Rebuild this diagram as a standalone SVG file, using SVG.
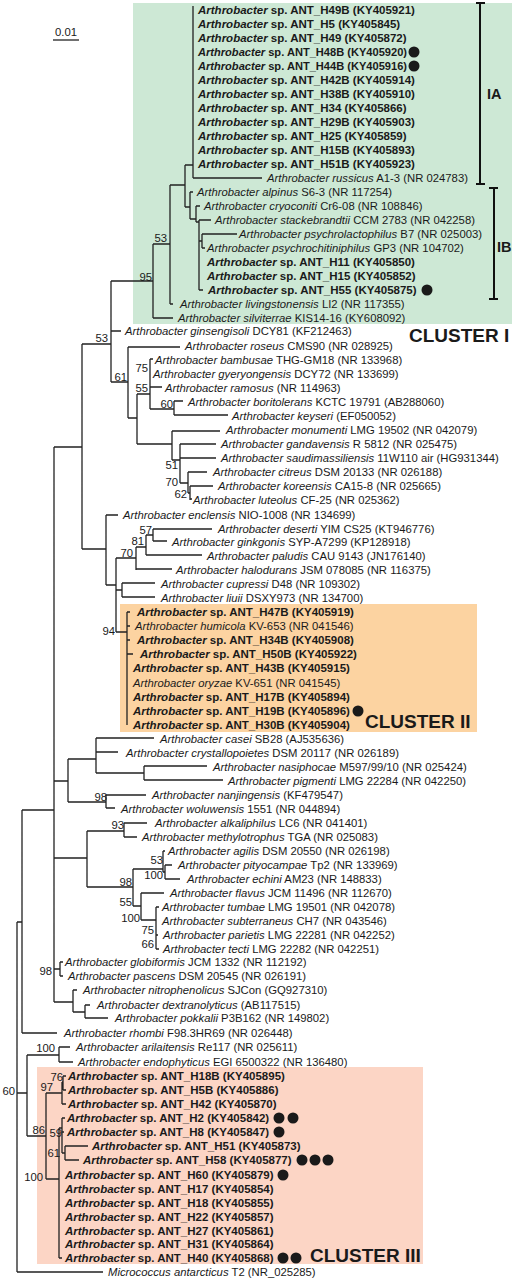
<svg xmlns="http://www.w3.org/2000/svg" width="515" height="1282" viewBox="0 0 515 1282">
<style>
text{font-family:"Liberation Sans",Arial,sans-serif;fill:#1a1a1a}
.t{font-size:11.3px}
.b{font-size:11.5px;font-weight:bold}
.i{font-style:italic}
.bs{font-size:11.3px;text-anchor:end}
.cl{font-size:19px;font-weight:bold}
.br{font-size:14.5px;font-weight:bold}
.e{fill:none;stroke:#222;stroke-width:1.3}
.bk{fill:none;stroke:#111;stroke-width:2}
.dot{fill:#1a1a1a}
</style>
<g id="backgrounds">
<rect id="bg-cluster1" x="133" y="3" width="379" height="321" fill="#cde8d5"/>
<rect id="bg-cluster2" x="120" y="604" width="357" height="128" fill="#fcd3a1"/>
<rect id="bg-cluster3" x="37" y="1067" width="386" height="197" fill="#fcd5c5"/>
</g>
<g id="scale">
<text class="t" x="66" y="36" text-anchor="middle">0.01</text>
<path class="e" d="M53 40H79"/>
</g>
<g id="connectors">
<path class="e" d="M193 6V178M193 178H262
M185 165H193M185 165V207M185 207H190
M190 192V219M190 192H193M190 219H196
M196 206V222M196 206H200M196 222H199
M199 220V290M199 220H211M199 241H202M202 234V248M202 234H237M202 248H205M199 290H203
M170 185H185M170 185V304M170 304H173
M153 244H170M153 244V318M153 318H173
M111 281H153M111 281V382M111 331H121M82 344H111M111 382H128
M128 347V418M128 347H180M128 418H137
M137 394V444M137 394H150M137 444H172
M150 359V409M150 359H153M150 387H162M150 409H174
M174 401V415M174 401H183M174 415H228
M172 431V460M172 431H220M172 460H180
M180 444V483M180 444H216M180 458H216M180 483H188
M188 472V493M188 472H207M188 493H190
M190 486V500M190 486H213M190 499H192
M82 344V549M54 447H82M82 549H106
M106 515V585M106 515H118M106 585H116
M116 558V632M116 558H136M116 590H122M116 632H127
M136 547V570M136 547H146M136 569H172
M146 535V555M146 535H153M146 555H202
M153 529V541M153 529H212M153 541H167
M122 583V597M122 583H155M122 597H155
M127 612V725M127 612H130M127 626H130M127 640H130M127 654H133
M54 447V1002M22 810H54M54 781H68M54 858H87M54 969H60M54 1002H73
M68 759V802M68 759H96M68 802H106
M96 738V773M96 738H154M96 752H118M96 773H144
M144 766V780M144 766H207M144 780H223
M106 795V808M106 795H146M106 808H115
M87 831V887M87 831H124M87 887H133
M124 823V837M124 823H147M124 837H137
M133 869V906M133 869H163M133 906H141
M163 851V872M163 851H165M163 872H165M165 865V879M165 865H172M165 879H180
M141 893V920M141 893H164M141 920H156
M156 907V949M156 907H159M156 935H158M156 949H159
M60 962V976M60 962H63M60 976H63
M73 990V1012M73 990H77M73 1012H85
M85 1005V1018M85 1005H90M85 1018H108
M22 810V1033M22 1033H57M17 922H22
M17 922V1272M17 1272H103M17 1093H27
M27 1055V1136M27 1055H59M27 1136H46
M59 1047V1062M59 1047H70M59 1062H73
M46 1093V1179M46 1093H62M46 1179H59
M62 1082V1104M62 1082H63M62 1104H66
M63 1076V1090M63 1076H66M63 1090H66
M59 1128V1258M59 1128H62M59 1258H62
M62 1118V1153M62 1118H65M62 1132H64M62 1153H65
M65 1146V1160M65 1146H88M65 1160H79"/>
</g>
<g id="brackets">
<path class="bk" d="M476 3H485M480 3V184M476 184H485"/>
<text class="br" x="487" y="99">IA</text>
<path class="bk" d="M489 188H498M494 188V299M489 299H498"/>
<text class="br" x="497" y="252">IB</text>
</g>
<g id="bootstrap">
<text class="bs" x="167" y="242">53</text>
<text class="bs" x="152" y="281">95</text>
<text class="bs" x="108" y="342">53</text>
<text class="bs" x="127" y="381">61</text>
<text class="bs" x="148" y="372">75</text>
<text class="bs" x="148" y="392">55</text>
<text class="bs" x="173" y="408">60</text>
<text class="bs" x="178" y="469">51</text>
<text class="bs" x="178" y="486">70</text>
<text class="bs" x="187" y="498">62</text>
<text class="bs" x="152" y="534">57</text>
<text class="bs" x="144" y="545">81</text>
<text class="bs" x="133" y="557">70</text>
<text class="bs" x="115" y="635">94</text>
<text class="bs" x="107" y="801">98</text>
<text class="bs" x="124" y="829">93</text>
<text class="bs" x="163" y="864">53</text>
<text class="bs" x="163" y="879">100</text>
<text class="bs" x="132" y="886">98</text>
<text class="bs" x="132" y="906">55</text>
<text class="bs" x="140" y="922">100</text>
<text class="bs" x="154" y="934">75</text>
<text class="bs" x="154" y="948">66</text>
<text class="bs" x="52" y="975">98</text>
<text class="bs" x="55" y="1052">100</text>
<text class="bs" x="15" y="1095">60</text>
<text class="bs" x="63" y="1081">76</text>
<text class="bs" x="53" y="1091">97</text>
<text class="bs" x="45" y="1134">86</text>
<text class="bs" x="62" y="1137">59</text>
<text class="bs" x="60" y="1157">61</text>
<text class="bs" x="43" y="1181">100</text>
</g>
<g id="cluster-labels">
<text class="cl" x="409" y="342">CLUSTER I</text>
<text class="cl" x="365" y="728">CLUSTER II</text>
<text class="cl" x="310" y="1262">CLUSTER III</text>
</g>
<g id="leaves">
<g id="n1"><text class="b" x="198" y="14"><tspan class="i">Arthrobacter</tspan> sp. ANT_H49B (KY405921)</text></g>
<g id="n2"><text class="b" x="198" y="28"><tspan class="i">Arthrobacter</tspan> sp. ANT_H5 (KY405845)</text></g>
<g id="n3"><text class="b" x="198" y="42"><tspan class="i">Arthrobacter</tspan> sp. ANT_H49 (KY405872)</text></g>
<g id="n4"><text class="b" x="198" y="56" textLength="209" lengthAdjust="spacingAndGlyphs"><tspan class="i">Arthrobacter</tspan> sp. ANT_H48B (KY405920)</text><circle class="dot" cx="414" cy="52" r="5.5"/></g>
<g id="n5"><text class="b" x="198" y="70" textLength="209" lengthAdjust="spacingAndGlyphs"><tspan class="i">Arthrobacter</tspan> sp. ANT_H44B (KY405916)</text><circle class="dot" cx="414" cy="66" r="5.5"/></g>
<g id="n6"><text class="b" x="198" y="84"><tspan class="i">Arthrobacter</tspan> sp. ANT_H42B (KY405914)</text></g>
<g id="n7"><text class="b" x="198" y="98"><tspan class="i">Arthrobacter</tspan> sp. ANT_H38B (KY405910)</text></g>
<g id="n8"><text class="b" x="198" y="112"><tspan class="i">Arthrobacter</tspan> sp. ANT_H34 (KY405866)</text></g>
<g id="n9"><text class="b" x="198" y="126"><tspan class="i">Arthrobacter</tspan> sp. ANT_H29B (KY405903)</text></g>
<g id="n10"><text class="b" x="198" y="140"><tspan class="i">Arthrobacter</tspan> sp. ANT_H25 (KY405859)</text></g>
<g id="n11"><text class="b" x="198" y="154"><tspan class="i">Arthrobacter</tspan> sp. ANT_H15B (KY405893)</text></g>
<g id="n12"><text class="b" x="198" y="168"><tspan class="i">Arthrobacter</tspan> sp. ANT_H51B (KY405923)</text></g>
<g id="n13"><text class="t" x="267" y="182"><tspan class="i">Arthrobacter russicus</tspan> A1-3 (NR 024783)</text></g>
<g id="n14"><text class="t" x="197" y="196"><tspan class="i">Arthrobacter alpinus</tspan> S6-3 (NR 117254)</text></g>
<g id="n15"><text class="t" x="204" y="210"><tspan class="i">Arthrobacter cryoconiti</tspan> Cr6-08 (NR 108846)</text></g>
<g id="n16"><text class="t" x="215" y="224"><tspan class="i">Arthrobacter stackebrandtii</tspan> CCM 2783 (NR 042258)</text></g>
<g id="n17"><text class="t" x="239" y="238"><tspan class="i">Arthrobacter psychrolactophilus</tspan> B7 (NR 025003)</text></g>
<g id="n18"><text class="t" x="207" y="252"><tspan class="i">Arthrobacter psychrochitiniphilus</tspan> GP3 (NR 104702)</text></g>
<g id="n19"><text class="b" x="207" y="266"><tspan class="i">Arthrobacter</tspan> sp. ANT_H11 (KY405850)</text></g>
<g id="n20"><text class="b" x="207" y="280"><tspan class="i">Arthrobacter</tspan> sp. ANT_H15 (KY405852)</text></g>
<g id="n21"><text class="b" x="208" y="294"><tspan class="i">Arthrobacter</tspan> sp. ANT_H55 (KY405875)</text><circle class="dot" cx="427" cy="290" r="5.5"/></g>
<g id="n22"><text class="t" x="180" y="308"><tspan class="i">Arthrobacter livingstonensis</tspan> LI2 (NR 117355)</text></g>
<g id="n23"><text class="t" x="178" y="322"><tspan class="i">Arthrobacter silviterrae</tspan> KIS14-16 (KY608092)</text></g>
<g id="n24"><text class="t" x="125" y="335"><tspan class="i">Arthrobacter ginsengisoli</tspan> DCY81 (KF212463)</text></g>
<g id="n25"><text class="t" x="185" y="350"><tspan class="i">Arthrobacter roseus</tspan> CMS90 (NR 028925)</text></g>
<g id="n26"><text class="t" x="155" y="364"><tspan class="i">Arthrobacter bambusae</tspan> THG-GM18 (NR 133968)</text></g>
<g id="n27"><text class="t" x="153" y="378"><tspan class="i">Arthrobacter gyeryongensis</tspan> DCY72 (NR 133699)</text></g>
<g id="n28"><text class="t" x="165" y="392"><tspan class="i">Arthrobacter ramosus</tspan> (NR 114963)</text></g>
<g id="n29"><text class="t" x="188" y="406"><tspan class="i">Arthrobacter boritolerans</tspan> KCTC 19791 (AB288060)</text></g>
<g id="n30"><text class="t" x="232" y="420"><tspan class="i">Arthrobacter keyseri</tspan> (EF050052)</text></g>
<g id="n31"><text class="t" x="226" y="434"><tspan class="i">Arthrobacter monumenti</tspan> LMG 19502 (NR 042079)</text></g>
<g id="n32"><text class="t" x="221" y="448"><tspan class="i">Arthrobacter gandavensis</tspan> R 5812 (NR 025475)</text></g>
<g id="n33"><text class="t" x="221" y="462"><tspan class="i">Arthrobacter saudimassiliensis</tspan> 11W110 air (HG931344)</text></g>
<g id="n34"><text class="t" x="213" y="476"><tspan class="i">Arthrobacter citreus</tspan> DSM 20133 (NR 026188)</text></g>
<g id="n35"><text class="t" x="218" y="490"><tspan class="i">Arthrobacter koreensis</tspan> CA15-8 (NR 025665)</text></g>
<g id="n36"><text class="t" x="193" y="504"><tspan class="i">Arthrobacter luteolus</tspan> CF-25 (NR 025362)</text></g>
<g id="n37"><text class="t" x="123" y="519"><tspan class="i">Arthrobacter enclensis</tspan> NIO-1008 (NR 134699)</text></g>
<g id="n38"><text class="t" x="218" y="533"><tspan class="i">Arthrobacter deserti</tspan> YIM CS25 (KT946776)</text></g>
<g id="n39"><text class="t" x="172" y="546"><tspan class="i">Arthrobacter ginkgonis</tspan> SYP-A7299 (KP128918)</text></g>
<g id="n40"><text class="t" x="207" y="560"><tspan class="i">Arthrobacter paludis</tspan> CAU 9143 (JN176140)</text></g>
<g id="n41"><text class="t" x="176" y="574"><tspan class="i">Arthrobacter halodurans</tspan> JSM 078085 (NR 116375)</text></g>
<g id="n42"><text class="t" x="161" y="588"><tspan class="i">Arthrobacter cupressi</tspan> D48 (NR 109302)</text></g>
<g id="n43"><text class="t" x="161" y="602"><tspan class="i">Arthrobacter liuii</tspan> DSXY973 (NR 134700)</text></g>
<g id="n44"><text class="b" x="137" y="616"><tspan class="i">Arthrobacter</tspan> sp. ANT_H47B (KY405919)</text></g>
<g id="n45"><text class="t" x="135" y="630"><tspan class="i">Arthrobacter humicola</tspan> KV-653 (NR 041546)</text></g>
<g id="n46"><text class="b" x="137" y="644"><tspan class="i">Arthrobacter</tspan> sp. ANT_H34B (KY405908)</text></g>
<g id="n47"><text class="b" x="140" y="658"><tspan class="i">Arthrobacter</tspan> sp. ANT_H50B (KY405922)</text></g>
<g id="n48"><text class="b" x="133" y="672"><tspan class="i">Arthrobacter</tspan> sp. ANT_H43B (KY405915)</text></g>
<g id="n49"><text class="t" x="133" y="687"><tspan class="i">Arthrobacter oryzae</tspan> KV-651 (NR 041545)</text></g>
<g id="n50"><text class="b" x="133" y="701"><tspan class="i">Arthrobacter</tspan> sp. ANT_H17B (KY405894)</text></g>
<g id="n51"><text class="b" x="133" y="715"><tspan class="i">Arthrobacter</tspan> sp. ANT_H19B (KY405896)</text><circle class="dot" cx="358" cy="711" r="5.5"/></g>
<g id="n52"><text class="b" x="133" y="729"><tspan class="i">Arthrobacter</tspan> sp. ANT_H30B (KY405904)</text></g>
<g id="n53"><text class="t" x="160" y="743"><tspan class="i">Arthrobacter casei</tspan> SB28 (AJ535636)</text></g>
<g id="n54"><text class="t" x="126" y="757"><tspan class="i">Arthrobacter crystallopoietes</tspan> DSM 20117 (NR 026189)</text></g>
<g id="n55"><text class="t" x="213" y="771"><tspan class="i">Arthrobacter nasiphocae</tspan> M597/99/10 (NR 025424)</text></g>
<g id="n56"><text class="t" x="228" y="785"><tspan class="i">Arthrobacter pigmenti</tspan> LMG 22284 (NR 042250)</text></g>
<g id="n57"><text class="t" x="152" y="799"><tspan class="i">Arthrobacter nanjingensis</tspan> (KF479547)</text></g>
<g id="n58"><text class="t" x="121" y="813"><tspan class="i">Arthrobacter woluwensis</tspan> 1551 (NR 044894)</text></g>
<g id="n59"><text class="t" x="155" y="827"><tspan class="i">Arthrobacter alkaliphilus</tspan> LC6 (NR 041401)</text></g>
<g id="n60"><text class="t" x="142" y="841"><tspan class="i">Arthrobacter methylotrophus</tspan> TGA (NR 025083)</text></g>
<g id="n61"><text class="t" x="168" y="855"><tspan class="i">Arthrobacter agilis</tspan> DSM 20550 (NR 026198)</text></g>
<g id="n62"><text class="t" x="178" y="869"><tspan class="i">Arthrobacter pityocampae</tspan> Tp2 (NR 133969)</text></g>
<g id="n63"><text class="t" x="187" y="883"><tspan class="i">Arthrobacter echini</tspan> AM23 (NR 148833)</text></g>
<g id="n64"><text class="t" x="170" y="897"><tspan class="i">Arthrobacter flavus</tspan> JCM 11496 (NR 112670)</text></g>
<g id="n65"><text class="t" x="162" y="911"><tspan class="i">Arthrobacter tumbae</tspan> LMG 19501 (NR 042078)</text></g>
<g id="n66"><text class="t" x="162" y="925"><tspan class="i">Arthrobacter subterraneus</tspan> CH7 (NR 043546)</text></g>
<g id="n67"><text class="t" x="163" y="939"><tspan class="i">Arthrobacter parietis</tspan> LMG 22281 (NR 042252)</text></g>
<g id="n68"><text class="t" x="163" y="953"><tspan class="i">Arthrobacter tecti</tspan> LMG 22282 (NR 042251)</text></g>
<g id="n69"><text class="t" x="65" y="966"><tspan class="i">Arthrobacter globiformis</tspan> JCM 1332 (NR 112192)</text></g>
<g id="n70"><text class="t" x="68" y="980"><tspan class="i">Arthrobacter pascens</tspan> DSM 20545 (NR 026191)</text></g>
<g id="n71"><text class="t" x="83" y="994"><tspan class="i">Arthrobacter nitrophenolicus</tspan> SJCon (GQ927310)</text></g>
<g id="n72"><text class="t" x="97" y="1009"><tspan class="i">Arthrobacter dextranolyticus</tspan> (AB117515)</text></g>
<g id="n73"><text class="t" x="115" y="1022"><tspan class="i">Arthrobacter pokkalii</tspan> P3B162 (NR 149802)</text></g>
<g id="n74"><text class="t" x="64" y="1037"><tspan class="i">Arthrobacter rhombi</tspan> F98.3HR69 (NR 026448)</text></g>
<g id="n75"><text class="t" x="76" y="1051"><tspan class="i">Arthrobacter arilaitensis</tspan> Re117 (NR 025611)</text></g>
<g id="n76"><text class="t" x="78" y="1066"><tspan class="i">Arthrobacter endophyticus</tspan> EGI 6500322 (NR 136480)</text></g>
<g id="n77"><text class="b" x="68" y="1080"><tspan class="i">Arthrobacter</tspan> sp. ANT_H18B (KY405895)</text></g>
<g id="n78"><text class="b" x="68" y="1094"><tspan class="i">Arthrobacter</tspan> sp. ANT_H5B (KY405886)</text></g>
<g id="n79"><text class="b" x="68" y="1108"><tspan class="i">Arthrobacter</tspan> sp. ANT_H42 (KY405870)</text></g>
<g id="n80"><text class="b" x="67" y="1122"><tspan class="i">Arthrobacter</tspan> sp. ANT_H2 (KY405842)</text><circle class="dot" cx="279" cy="1118" r="5.5"/><circle class="dot" cx="293" cy="1118" r="5.5"/></g>
<g id="n81"><text class="b" x="67" y="1136"><tspan class="i">Arthrobacter</tspan> sp. ANT_H8 (KY405847)</text><circle class="dot" cx="279" cy="1132" r="5.5"/></g>
<g id="n82"><text class="b" x="92" y="1150"><tspan class="i">Arthrobacter</tspan> sp. ANT_H51 (KY405873)</text></g>
<g id="n83"><text class="b" x="83" y="1164"><tspan class="i">Arthrobacter</tspan> sp. ANT_H58 (KY405877)</text><circle class="dot" cx="302" cy="1160" r="5.5"/><circle class="dot" cx="315" cy="1160" r="5.5"/><circle class="dot" cx="328" cy="1160" r="5.5"/></g>
<g id="n84"><text class="b" x="65" y="1179"><tspan class="i">Arthrobacter</tspan> sp. ANT_H60 (KY405879)</text><circle class="dot" cx="283" cy="1175" r="5.5"/></g>
<g id="n85"><text class="b" x="65" y="1193"><tspan class="i">Arthrobacter</tspan> sp. ANT_H17 (KY405854)</text></g>
<g id="n86"><text class="b" x="65" y="1207"><tspan class="i">Arthrobacter</tspan> sp. ANT_H18 (KY405855)</text></g>
<g id="n87"><text class="b" x="65" y="1221"><tspan class="i">Arthrobacter</tspan> sp. ANT_H22 (KY405857)</text></g>
<g id="n88"><text class="b" x="65" y="1235"><tspan class="i">Arthrobacter</tspan> sp. ANT_H27 (KY405861)</text></g>
<g id="n89"><text class="b" x="65" y="1248"><tspan class="i">Arthrobacter</tspan> sp. ANT_H31 (KY405864)</text></g>
<g id="n90"><text class="b" x="65" y="1262"><tspan class="i">Arthrobacter</tspan> sp. ANT_H40 (KY405868)</text><circle class="dot" cx="283" cy="1258" r="5.5"/><circle class="dot" cx="296" cy="1258" r="5.5"/></g>
<g id="n91"><text class="t" x="108" y="1276"><tspan class="i">Micrococcus antarcticus</tspan> T2 (NR_025285)</text></g>
</g>
</svg>
